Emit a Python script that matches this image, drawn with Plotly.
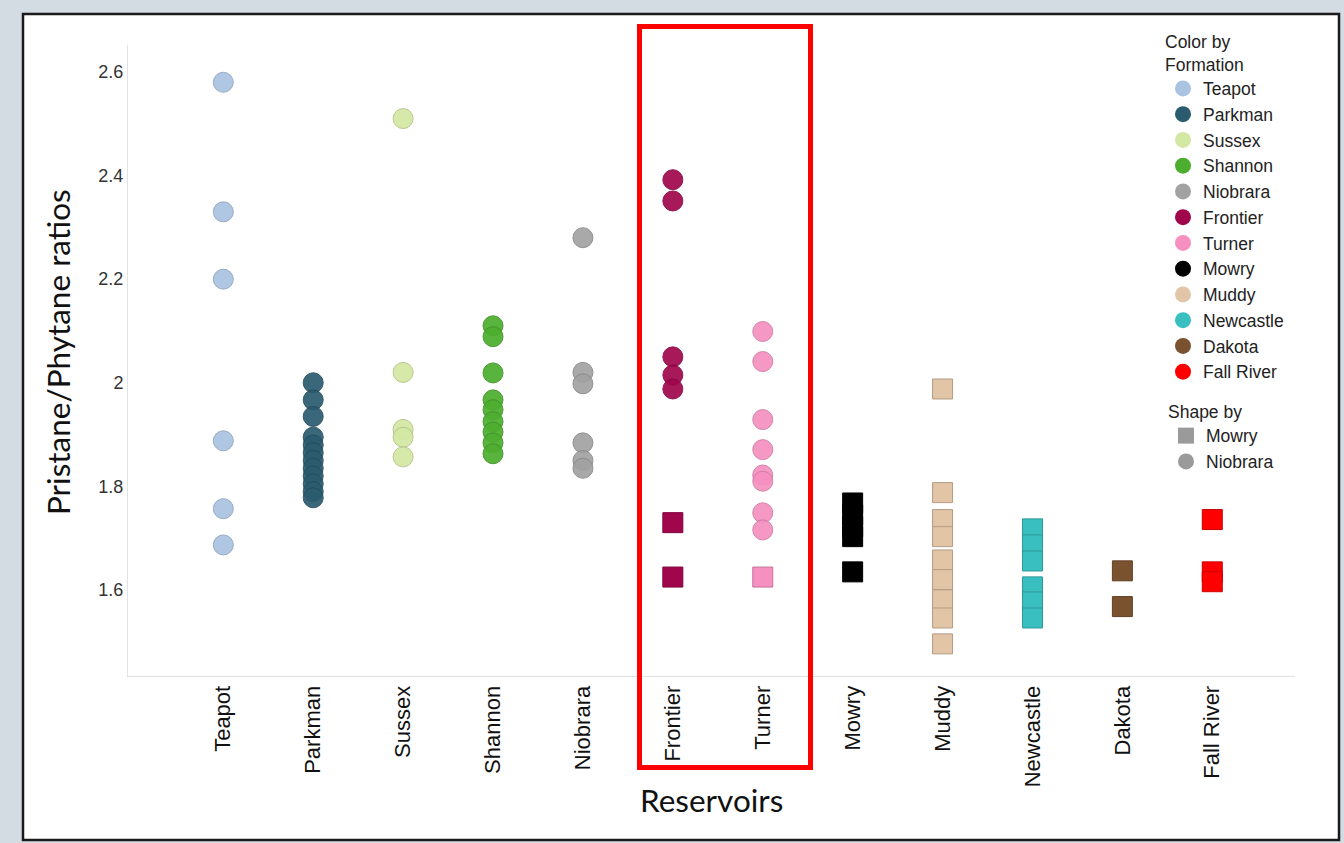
import plotly.graph_objects as go

# ---------------- data ----------------
formations = ["Teapot", "Parkman", "Sussex", "Shannon", "Niobrara", "Frontier",
              "Turner", "Mowry", "Muddy", "Newcastle", "Dakota", "Fall River"]

colors = ["#A9C3E0", "#2A5B6E", "#D3E8A2", "#4CAE2E", "#A2A2A2", "#A0064C",
          "#F590C0", "#000000", "#E2C4A6", "#3ABFC0", "#7A5230", "#FF0000"]

# circle samples (Niobrara shape)
teapot_c = [2.58, 2.33, 2.20, 1.888, 1.757, 1.687]
parkman_c = [2.0, 1.967, 1.935, 1.895, 1.88, 1.865, 1.85, 1.835, 1.82, 1.805, 1.79, 1.778]
sussex_c = [2.51, 2.02, 1.91, 1.895, 1.857]
shannon_c = [2.11, 2.089, 2.019, 1.967, 1.948, 1.925, 1.905, 1.884, 1.863]
niobrara_c = [2.28, 2.02, 1.998, 1.884, 1.85, 1.835]
frontier_c = [2.392, 2.351, 2.05, 2.015, 1.988]
turner_c = [2.099, 2.041, 1.929, 1.871, 1.822, 1.81, 1.749, 1.716]

# square samples (Mowry shape)
frontier_s = [1.730, 1.625]
turner_s = [1.625]
mowry_s = [1.768, 1.745, 1.722, 1.703, 1.635]
muddy_s = [1.988, 1.788, 1.736, 1.703, 1.658, 1.62, 1.581, 1.546, 1.496]
newcastle_s = [1.718, 1.687, 1.656, 1.606, 1.577, 1.546]
dakota_s = [1.637, 1.568]
fallriver_s = [1.736, 1.635, 1.616]

circles = {"Teapot": teapot_c, "Parkman": parkman_c, "Sussex": sussex_c,
           "Shannon": shannon_c, "Niobrara": niobrara_c, "Frontier": frontier_c,
           "Turner": turner_c}
squares = {"Frontier": frontier_s, "Turner": turner_s, "Mowry": mowry_s,
           "Muddy": muddy_s, "Newcastle": newcastle_s, "Dakota": dakota_s,
           "Fall River": fallriver_s}

ytick_vals = [1.6, 1.8, 2.0, 2.2, 2.4, 2.6]
ytick_text = ["1.6", "1.8", "2", "2.2", "2.4", "2.6"]

TEXT_FONT = "Liberation Sans, Arial, sans-serif"
TITLE_FONT = "Lato, 'Open Sans', sans-serif"

fig = go.Figure()

def darker(hexc, f=0.8):
    h = hexc.lstrip("#")
    r, g, b = int(h[0:2], 16), int(h[2:4], 16), int(h[4:6], 16)
    return "rgb(%d,%d,%d)" % (r * f, g * f, b * f)

for name, col in zip(formations, colors):
    if name in circles:
        vals = circles[name]
        fig.add_trace(go.Scatter(
            x=[name] * len(vals), y=vals, mode="markers", showlegend=False,
            marker=dict(symbol="circle", size=20, color=col, opacity=0.92,
                        line=dict(width=1, color=darker(col, 0.85)))))
    if name in squares:
        vals = squares[name]
        fig.add_trace(go.Scatter(
            x=[name] * len(vals), y=vals, mode="markers", showlegend=False,
            marker=dict(symbol="square", size=20, color=col,
                        line=dict(width=1, color=darker(col, 0.8)))))

# legend entries (colour)
for name, col in zip(formations, colors):
    fig.add_trace(go.Scatter(
        x=[None], y=[None], mode="markers", name=name, legend="legend",
        marker=dict(symbol="circle", size=20, color=col)))

# legend entries (shape)
fig.add_trace(go.Scatter(x=[None], y=[None], mode="markers", name="Mowry",
                         legend="legend2",
                         marker=dict(symbol="square", size=20, color="#9A9A9A")))
fig.add_trace(go.Scatter(x=[None], y=[None], mode="markers", name="Niobrara",
                         legend="legend2",
                         marker=dict(symbol="circle", size=20, color="#9A9A9A")))

L, R, T, B = 128, 1295, 45, 676
W, H = 1344, 843
pw, ph = R - L, B - T

def px(x):
    return (x - L) / pw

def py(y):
    return (B - y) / ph

shapes = [
    # outer white frame with black border
    dict(type="rect", xref="paper", yref="paper", layer="below",
         x0=px(23), x1=px(1339), y0=py(840), y1=py(14),
         line=dict(color="#1A1A1A", width=2.5), fillcolor="white"),
    # red highlight box
    dict(type="rect", xref="paper", yref="paper", layer="above",
         x0=px(639.5), x1=px(810.5), y0=py(767.5), y1=py(26.5),
         line=dict(color="#FF0000", width=5), fillcolor="rgba(0,0,0,0)"),
]

annotations = [
    dict(text="Pristane/Phytane ratios", xref="paper", yref="paper",
         x=px(58), y=py(352), textangle=-90, showarrow=False,
         font=dict(family=TITLE_FONT, size=31.5, color="#111111"),
         xanchor="center", yanchor="middle"),
    dict(text="Reservoirs", xref="paper", yref="paper",
         x=px(711), y=py(800), showarrow=False,
         font=dict(family=TITLE_FONT, size=31.5, color="#111111"),
         xanchor="center", yanchor="middle"),
]

fig.update_layout(
    width=W, height=H,
    margin=dict(l=L, r=W - R, t=T, b=H - B),
    paper_bgcolor="#D3DBE3",
    plot_bgcolor="white",
    shapes=shapes,
    annotations=annotations,
    xaxis=dict(
        type="category", categoryorder="array", categoryarray=formations,
        range=[-1.06, 11.92], tickangle=-90, showgrid=False, zeroline=False,
        showline=True, linecolor="#E2E2E2", linewidth=1, ticks="",
        tickfont=dict(family=TEXT_FONT, size=22, color="#111111"),
    ),
    yaxis=dict(
        range=[1.434, 2.652], tickvals=ytick_vals, ticktext=ytick_text,
        showgrid=False, zeroline=False, showline=True, linecolor="#E2E2E2",
        linewidth=1, ticks="",
        tickfont=dict(family=TEXT_FONT, size=18, color="#333333"),
    ),
    legend=dict(
        title=dict(text="Color by<br>Formation",
                   font=dict(family=TEXT_FONT, size=17.5, color="#222222")),
        x=px(1163), y=py(25), xanchor="left", yanchor="top",
        bgcolor="rgba(0,0,0,0)", font=dict(family=TEXT_FONT, size=17.5, color="#222222"),
        itemsizing="trace",
    ),
    legend2=dict(
        title=dict(text="Shape by",
                   font=dict(family=TEXT_FONT, size=17.5, color="#222222")),
        x=px(1166), y=py(395), xanchor="left", yanchor="top",
        bgcolor="rgba(0,0,0,0)", font=dict(family=TEXT_FONT, size=17.5, color="#222222"),
        itemsizing="trace",
    ),
)

fig.write_html("out.html")
